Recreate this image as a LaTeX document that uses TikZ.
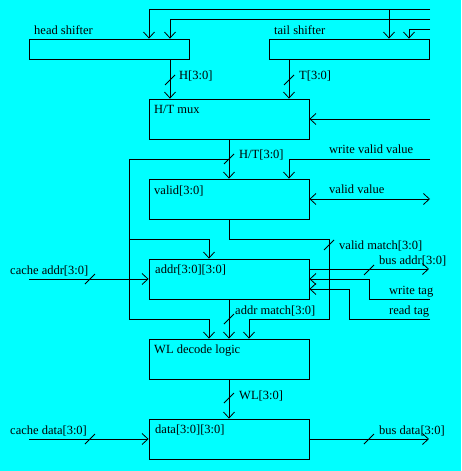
\documentclass[tikz,border=0pt]{standalone}
\usepackage{fontspec}
\setmainfont{Liberation Serif}
\usepackage{xcolor}
\usetikzlibrary{arrows.meta}
\definecolor{bgcyan}{RGB}{0,255,255}

\tikzset{
  blk/.style={draw, thick, minimum width=160pt, inner sep=0pt},
  wire/.style={thick},
  sig/.style={anchor=base west, inner sep=0pt},
  >={Straight Barb[length=6pt,width=11pt]}
}
% 总线斜线标记
\newcommand{\busmark}[1]{\draw[wire] #1 ++(-5,5) -- ++(10,-10);}

\begin{document}
\begin{tikzpicture}[x=1pt, y=-1pt, font=\fontsize{12.5}{15}\selectfont]
    % 背景
    \fill[bgcyan] (0,0) rectangle (461,471);

    % 定义各个模块
    \node[blk, minimum height=20pt] (hs) at (109,49) {};
    \node[blk, minimum height=20pt] (ts) at (349,49) {};
    \node[blk, minimum height=40pt] (mux) at (229,119) {};
    \node[blk, minimum height=40pt] (valid) at (229,199) {};
    \node[blk, minimum height=40pt] (addr) at (229,279) {};
    \node[blk, minimum height=40pt] (wl) at (229,359) {};
    \node[blk, minimum height=40pt] (data) at (229,439) {};

    % 模块名称
    \node[sig] (hslbl) at (34,34) {head shifter};
    \node[sig] (tslbl) at (274,34) {tail shifter};
    \node[sig] (muxlbl) at (154,113) {H/T mux};
    \node[sig] (validlbl) at (154,194) {valid[3:0]};
    \node[sig] (addrlbl) at (155,273) {addr[3:0][3:0]};
    \node[sig] (wllbl) at (154,353) {WL decode logic};
    \node[sig] (datalbl) at (155,433) {data[3:0][3:0]};

    % 定义端点
    \coordinate (in1) at (430,9);
    \coordinate (in2) at (430,19);
    \coordinate (in3) at (430,29);
    \coordinate (j1) at (389,9);
    \coordinate (hout) at ([xshift=61pt]hs.south);
    \coordinate (tout) at ([xshift=-60pt]ts.south);
    \coordinate (muxin) at (430,119);
    \coordinate (htj) at (229,159);
    \coordinate (htl) at (129,159);
    \coordinate (hta) at (129,239);
    \coordinate (htw) at (129,319);
    \coordinate (wvv) at (430,159);
    \coordinate (vv) at (430,199);
    \coordinate (vm2) at (329,239);
    \coordinate (vm3) at (329,319);
    \coordinate (ca) at (29,279);
    \coordinate (ba) at (429,269);
    \coordinate (wt) at (430,299);
    \coordinate (wtb) at (369,299);
    \coordinate (rt) at (430,319);
    \coordinate (rtb) at (349,319);
    \coordinate (cd) at (29,439);
    \coordinate (bd) at (429,439);

    % 顶部输入
    \draw[wire,->] (in1) -| ([xshift=40pt]hs.north);
    \draw[wire,->] (j1) -- (j1 |- ts.north);
    \draw[wire,->] (in2) -| ([xshift=61pt]hs.north);
    \draw[wire,->] (in3) -| ([xshift=60pt]ts.north);

    % 移位器输出
    \draw[wire,->] (hout) -- (hout |- mux.north);
    \draw[wire,->] (tout) -- (tout |- mux.north);
    \busmark{(170,80)}
    \busmark{(289,80)}
    \node[sig] (hbus) at (179,79) {H[3:0]};
    \node[sig] (tbus) at (299,79) {T[3:0]};

    % mux 输入与 H/T 总线
    \draw[wire,->] (muxin) -- (mux.east);
    \draw[wire,->] (mux.south) -- (valid.north);
    \draw[wire] (htj) -- (htl) -- (htw);
    \draw[wire,->] (hta) -| ([xshift=-20pt]addr.north);
    \draw[wire,->] (htw) -| ([xshift=-20pt]wl.north);
    \busmark{(229,159)}
    \node[sig] (htbus) at (239,158) {H/T[3:0]};

    % valid 的输入输出
    \draw[wire,->] (wvv) -| ([xshift=60pt]valid.north);
    \draw[wire,<->] (valid.east) -- (vv);
    \node[sig] (wvvlbl) at (329,153) {write valid value};
    \node[sig] (vvlbl) at (329,193) {valid value};

    % valid match
    \draw[wire,->] (valid.south) |- (vm2) -- (vm3) -| ([xshift=20pt]wl.north);
    \busmark{(329,245)}
    \node[sig] (vmlbl) at (339,249) {valid match[3:0]};

    % addr 的输入输出
    \draw[wire,->] (ca) -- (addr.west);
    \draw[wire,->] ([yshift=10pt]addr.east) -- (ba);
    \draw[wire,->] (wt) -- (wtb) |- (addr.east);
    \draw[wire,->] (rt) -- (rtb) |- ([yshift=-10pt]addr.east);
    \busmark{(90,279)}
    \busmark{(369,270)}
    \node[sig] (calbl) at (10,274) {cache addr[3:0]};
    \node[sig] (balbl) at (379,264) {bus addr[3:0]};
    \node[sig] (wtlbl) at (389,294) {write tag};
    \node[sig] (rtlbl) at (389,314) {read tag};

    % addr match 与 WL
    \draw[wire,->] (addr.south) -- (wl.north);
    \draw[wire,->] (wl.south) -- (data.north);
    \busmark{(229,319)}
    \busmark{(229,398)}
    \node[sig] (amlbl) at (235,314) {addr match[3:0]};
    \node[sig] (wlbus) at (239,399) {WL[3:0]};

    % data 的输入输出
    \draw[wire,->] (cd) -- (data.west);
    \draw[wire,->] (data.east) -- (bd);
    \busmark{(90,439)}
    \busmark{(369,439)}
    \node[sig] (cdlbl) at (10,434) {cache data[3:0]};
    \node[sig] (bdlbl) at (379,434) {bus data[3:0]};

\end{tikzpicture}
\end{document}
